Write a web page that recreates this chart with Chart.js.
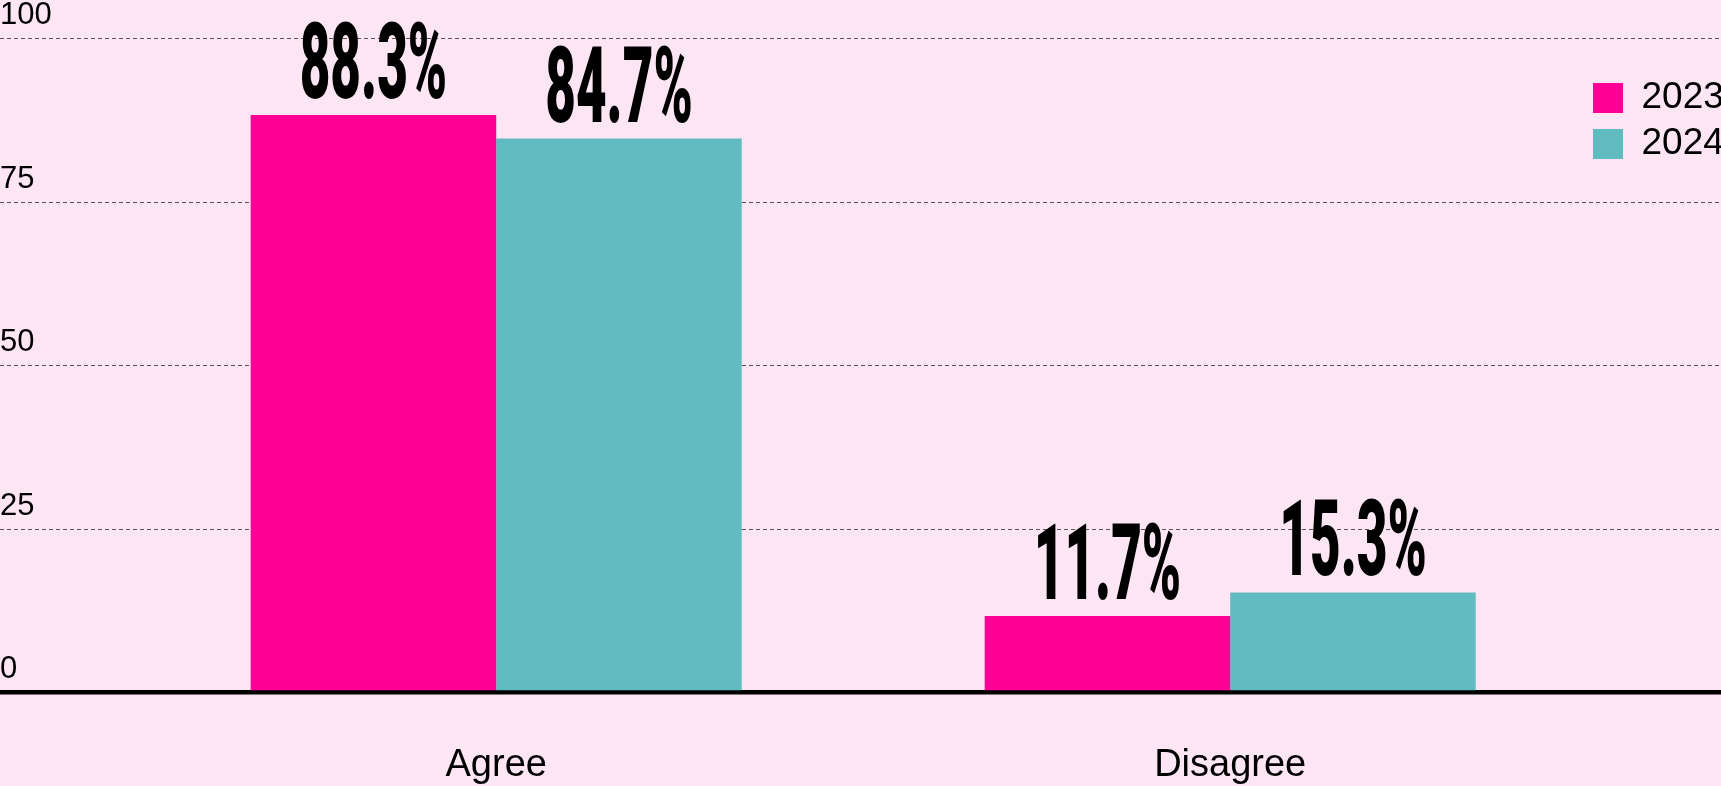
<!DOCTYPE html>
<html>
<head>
<meta charset="utf-8">
<script src="https://cdn.jsdelivr.net/npm/chart.js@4/dist/chart.umd.min.js"></script>
<style>
  html, body { margin: 0; padding: 0; background: #fde6f3; }
  #wrap { width: 1721px; height: 786px; }
</style>
</head>
<body>
<div id="wrap"><canvas id="agree-chart" width="1721" height="786"></canvas></div>
<script>
const categories = ['Agree', 'Disagree'];
const values2023 = [88.3, 11.7];
const values2024 = [84.7, 15.3];
const yTicks = [0, 25, 50, 75, 100];

const PINK = '#ff0096';
const TEAL = '#60bcc1';
const FONT = "'Liberation Sans', Arial, sans-serif";

// y grid has to run under the legend too, so stretch the chart area after layout
const fullWidthGrid = {
  id: 'fullWidthGrid',
  afterLayout(chart) {
    chart.chartArea.right = chart.width;
    chart.chartArea.width = chart.width - chart.chartArea.left;
  }
};

// big condensed value labels above each bar
const valueLabels = {
  id: 'valueLabels',
  afterDatasetsDraw(chart) {
    const ctx = chart.ctx;
    chart.data.datasets.forEach((ds, i) => {
      chart.getDatasetMeta(i).data.forEach((bar, j) => {
        ctx.save();
        ctx.translate(bar.x, bar.y - 17);
        ctx.scale(0.5, 1);
        ctx.font = "900 106px Roboto, Lato, 'DejaVu Sans', sans-serif";
        ctx.fillStyle = '#000';
        ctx.textAlign = 'center';
        ctx.textBaseline = 'alphabetic';
        ctx.fillText(ds.data[j].y + '%', 0, 0);
        ctx.restore();
      });
    });
  }
};

new Chart(document.getElementById('agree-chart'), {
  type: 'bar',
  data: {
    datasets: [
      {
        label: '2023',
        data: categories.map((c, i) => ({ x: i, y: values2023[i] })),
        backgroundColor: PINK,
        borderWidth: 0,
      },
      {
        label: '2024',
        data: categories.map((c, i) => ({ x: i, y: values2024[i] })),
        backgroundColor: TEAL,
        borderWidth: 0,
      },
    ],
  },
  options: {
    responsive: false,
    animation: false,
    categoryPercentage: 0.669,
    barPercentage: 1,
    layout: { padding: { top: 38.5, left: 0, right: 0, bottom: 0 } },
    plugins: {
      tooltip: { enabled: false },
      legend: {
        position: 'right',
        align: 'start',
        maxWidth: 137,
        title: { display: true, text: '', font: { size: 10 }, padding: { top: 20, bottom: 0 } },
        labels: {
          boxWidth: 30,
          boxHeight: 30,
          padding: 9,
          color: '#000',
          font: { family: FONT, size: 37 },
        },
      },
    },
    scales: {
      x: {
        type: 'linear',
        offset: false,
        min: -0.676,
        max: 1.482,
        afterFit: (axis) => { axis.height = 93.5; },
        grid: { display: false, drawTicks: false, offset: false },
        border: { display: false },
        ticks: {
          stepSize: 1,
          includeBounds: false,
          maxRotation: 0,
          padding: 53.2,
          color: '#000',
          font: { family: FONT, size: 38, lineHeight: 1.06 },
          callback: (v) => categories[v],
        },
      },
      y: {
        min: 0,
        max: 100,
        afterBuildTicks: (axis) => { axis.ticks = yTicks.map(v => ({ value: v })); },
        grid: {
          drawTicks: false,
          color: (c) => (c.tick && c.tick.value === 0 ? '#000' : '#555'),
          lineWidth: (c) => (c.tick && c.tick.value === 0 ? 4.5 : 1),
        },
        border: {
          display: false,
          dash: (c) => (c.tick && c.tick.value === 0 ? [] : [4, 3]),
        },
        ticks: {
          mirror: true,
          padding: 0,
          labelOffset: -23,
          color: '#000',
          font: { family: FONT, size: 31 },
        },
      },
    },
  },
  plugins: [fullWidthGrid, valueLabels],
});
</script>
</body>
</html>
